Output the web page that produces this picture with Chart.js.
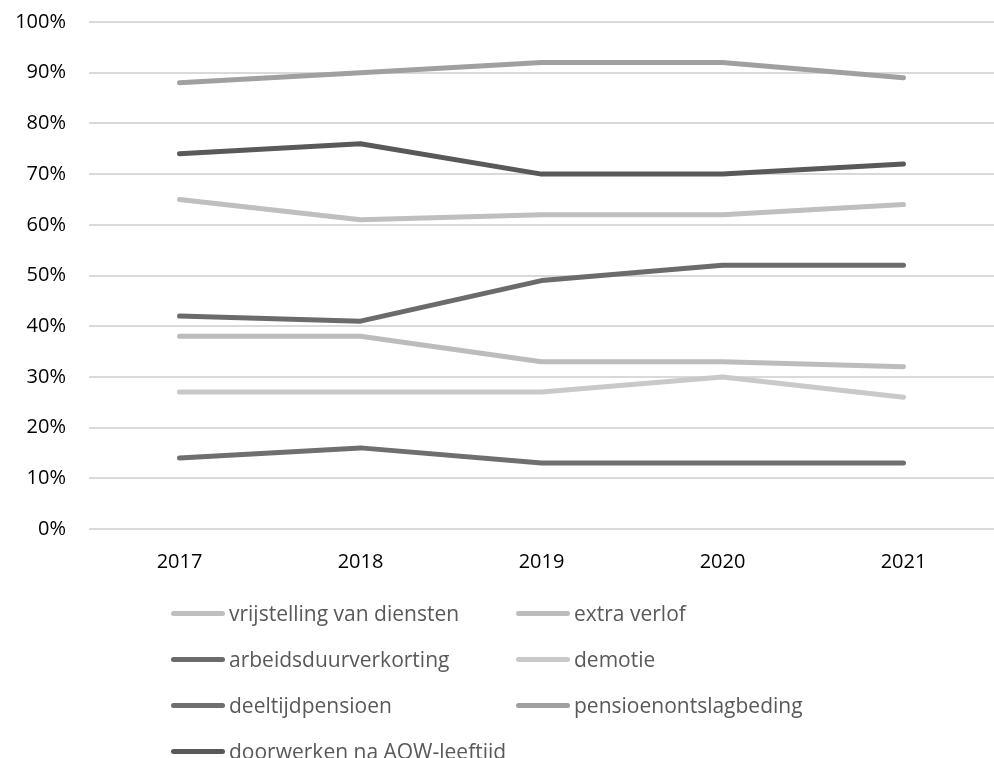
<!DOCTYPE html>
<html>
<head>
<meta charset="utf-8">
<script src="https://cdn.jsdelivr.net/npm/chart.js@4.4.0/dist/chart.umd.min.js"></script>
<style>
  html, body { margin: 0; padding: 0; background: #fff; }
  body { width: 994px; height: 758px; position: relative; overflow: hidden; font-family: "Open Sans", sans-serif; }
  #wrap { position: absolute; left: 0; top: -13px; width: 994px; height: 599px; }
  #legend { position: absolute; left: 0; top: 0; width: 994px; height: 758px; pointer-events: none; }
  .item { position: absolute; display: flex; align-items: center; font-size: 21px; color: #595959; white-space: nowrap; }
  .swatch { width: 54px; height: 5px; border-radius: 3px; margin-right: 4px; }
</style>
</head>
<body>
<div id="wrap"><canvas id="c" width="994" height="599"></canvas></div>
<div id="legend"></div>
<script>
const categories = ["2017", "2018", "2019", "2020", "2021"];
const seriesNames = [
  "vrijstelling van diensten",
  "extra verlof",
  "arbeidsduurverkorting",
  "demotie",
  "deeltijdpensioen",
  "pensioenontslagbeding",
  "doorwerken na AOW-leeftijd"
];
const vrijstelling = [65, 61, 62, 62, 64];
const extraVerlof = [38, 38, 33, 33, 32];
const arbeidsduurverkorting = [42, 41, 49, 52, 52];
const demotie = [27, 27, 27, 30, 26];
const deeltijdpensioen = [14, 16, 13, 13, 13];
const pensioenontslagbeding = [88, 90, 92, 92, 89];
const doorwerken = [74, 76, 70, 70, 72];
const yTicks = [0, 10, 20, 30, 40, 50, 60, 70, 80, 90, 100];

const seriesValues = [vrijstelling, extraVerlof, arbeidsduurverkorting, demotie, deeltijdpensioen, pensioenontslagbeding, doorwerken];
const colors = ["#bfbfbf", "#bcbcbc", "#6b6b6b", "#c9c9c9", "#6f6f6f", "#a0a0a0", "#595959"];

const datasets = seriesNames.map((n, i) => ({
  label: n,
  data: seriesValues[i],
  borderColor: colors[i],
  backgroundColor: colors[i],
  borderWidth: 5,
  borderCapStyle: 'round',
  borderJoinStyle: 'round',
  pointRadius: 0,
  pointHoverRadius: 0,
  tension: 0,
  fill: false
}));

new Chart(document.getElementById('c'), {
  type: 'line',
  data: { labels: categories, datasets },
  options: {
    responsive: false,
    animation: false,
    devicePixelRatio: 1,
    layout: { padding: { top: 11, right: 0, left: 0, bottom: 0 } },
    plugins: { legend: { display: false }, tooltip: { enabled: false } },
    scales: {
      x: {
        offset: true,
        grid: { display: false, drawTicks: false },
        border: { display: false },
        ticks: { color: '#000', font: { family: 'Open Sans', size: 20 }, padding: 21 },
        afterFit: s => { s.height = 57; }
      },
      y: {
        min: 0, max: 100,
        afterBuildTicks: s => { s.ticks = yTicks.map(v => ({ value: v })); },
        grid: { color: '#d9d9d9', lineWidth: 2, drawTicks: false },
        border: { display: false },
        ticks: { color: '#000', font: { family: 'Open Sans', size: 20 }, padding: 23, callback: v => v + '%' },
        afterFit: s => { s.width = 89; }
      }
    }
  }
});

const legend = document.getElementById('legend');
const colX = [171, 516];
const rowY = [613, 659, 705, 751];
seriesNames.forEach((n, i) => {
  const el = document.createElement('div');
  el.className = 'item';
  el.style.left = colX[i % 2] + 'px';
  el.style.top = (rowY[Math.floor(i / 2)] - 15) + 'px';
  el.style.height = '30px';
  const sw = document.createElement('span');
  sw.className = 'swatch';
  sw.style.background = colors[i];
  const t = document.createElement('span');
  t.textContent = n;
  el.appendChild(sw); el.appendChild(t);
  legend.appendChild(el);
});
</script>
</body>
</html>
